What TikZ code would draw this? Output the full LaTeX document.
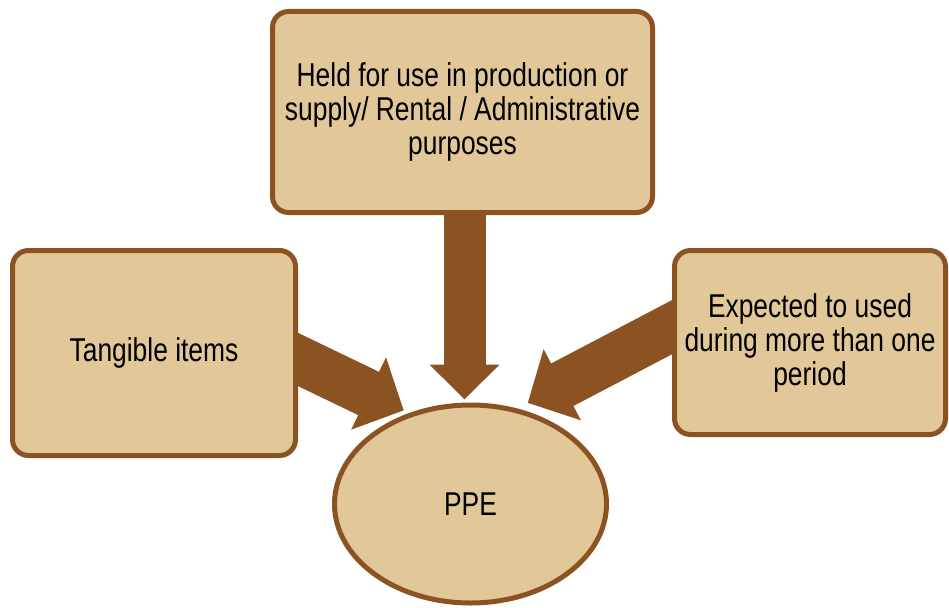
\documentclass[tikz,border=0pt]{standalone}
\usepackage{fontspec}
\setmainfont[FakeStretch=0.8]{Liberation Sans}
\usetikzlibrary{arrows.meta,shapes.geometric,backgrounds}
\definecolor{ppefill}{RGB}{226,200,153}
\definecolor{ppebrown}{RGB}{139,82,34}
\begin{document}
\begin{tikzpicture}[x=1pt,y=-1pt,
    box/.style={draw=ppebrown,fill=ppefill,line width=5pt,rounded corners=16pt,
      align=center,inner sep=0pt,font=\fontsize{33}{34}\selectfont},
    bigarrow/.style={draw=ppebrown,line width=48pt,-{Triangle[width=78pt,length=39pt]}}]
  \useasboundingbox (0,0) rectangle (949,607);
  \draw
    (462.5,112) node[box,minimum width=380pt,minimum height=201pt] (use)
      {Held for use in production or\\supply/ Rental / Administrative\\purposes}
    (154,353) node[box,minimum width=283pt,minimum height=205pt] (tangible)
      {Tangible items}
    (810,342.5) node[box,minimum width=271pt,minimum height=184pt] (period)
      {Expected to used\\during more than one\\period}
    (470.5,504) node[box,shape=ellipse,rounded corners=0pt,
      minimum width=272pt,minimum height=198pt] (ppe) {PPE};
  \begin{pgfonlayer}{background}
  \begin{scope}[bigarrow]
    \draw[line width=42pt,-{Triangle[width=68pt,length=35pt]},shorten >=3pt]
      ([xshift=2pt,yshift=10pt]use.south) -- ([xshift=2pt]use.south |- ppe.north);
    \draw[shorten >=6pt] ([xshift=-30pt,yshift=8pt]tangible.east) -- (ppe.124);
    \draw[shorten >=12pt] ([xshift=28pt,yshift=30pt]period.west) -- (ppe.64);
  \end{scope}
  \end{pgfonlayer}
\end{tikzpicture}
\end{document}
